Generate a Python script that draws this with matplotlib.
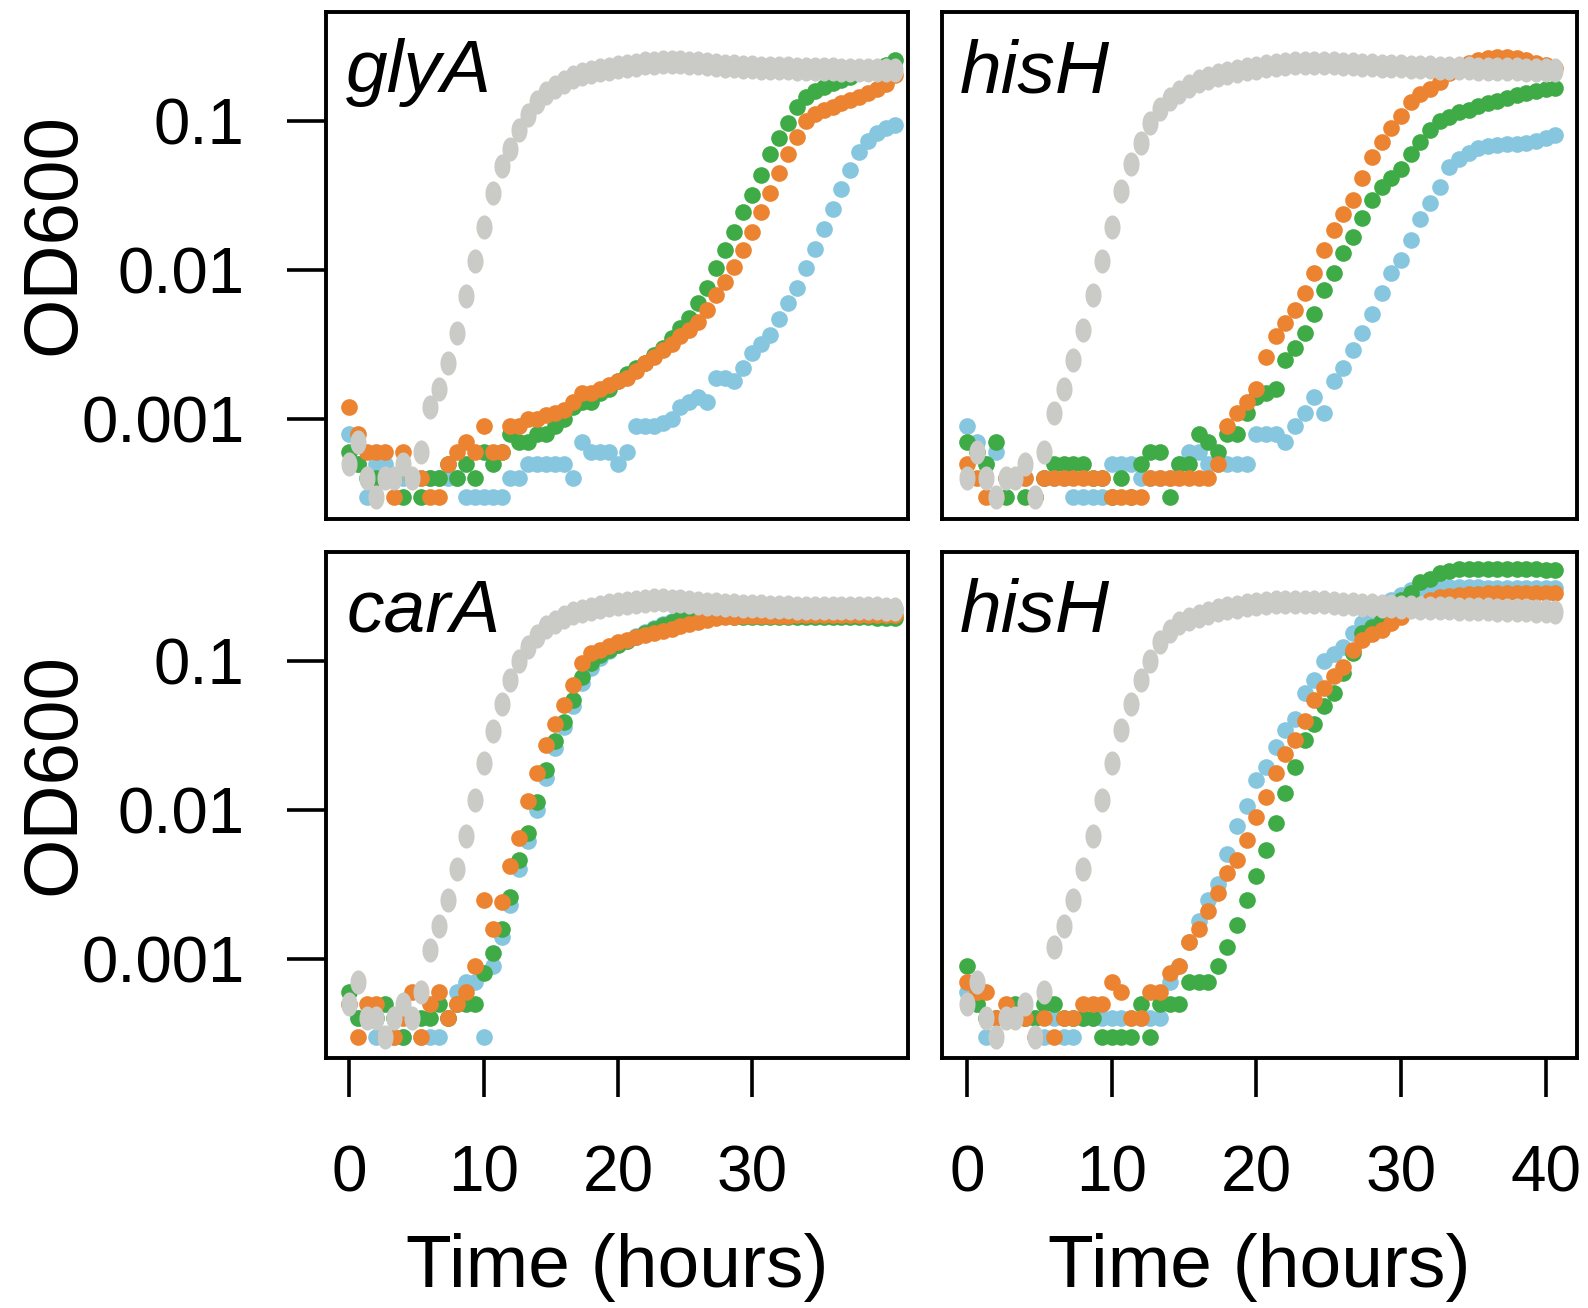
import numpy as np
import matplotlib

matplotlib.use("Agg")
import matplotlib.pyplot as plt
from matplotlib.path import Path

plt.rcParams["font.family"] = ["Liberation Sans", "DejaVu Sans"]

# plate reader schedule: one reading every 40 min, 62 readings
time_h = np.arange(62) * 2 / 3

# ---- glyA (top left) ----
glyA_grey = [0.0005, 0.0007, 0.0004, 0.0003, 0.0004, 0.0004, 0.0005, 0.0004, 0.0006,
             0.0012, 0.0016, 0.0024, 0.0038, 0.0067, 0.0115, 0.0196, 0.033, 0.050, 0.065, 0.088,
             0.11, 0.135, 0.155, 0.17, 0.185, 0.198, 0.207, 0.214, 0.22, 0.226,
             0.232, 0.237, 0.241, 0.245, 0.248, 0.25, 0.251, 0.25, 0.248, 0.246,
             0.243, 0.24, 0.237, 0.235, 0.233, 0.231, 0.23, 0.229, 0.228, 0.227,
             0.226, 0.225, 0.225, 0.224, 0.224, 0.223, 0.223, 0.223, 0.222, 0.222, 0.222, 0.222]
glyA_orange = [0.0012, 0.0008, 0.0006, 0.0006, 0.0006, 0.0003, 0.0006, 0.0004, 0.0004, 0.0003,
               0.0003, 0.0005, 0.0006, 0.0007, 0.0006, 0.0009, 0.0006, 0.0006, 0.0009, 0.0009,
               0.001, 0.001, 0.00107, 0.0011, 0.00116, 0.0013, 0.0015, 0.0015, 0.0016, 0.0017,
               0.0018, 0.0019, 0.0021, 0.0024, 0.0026, 0.0029, 0.0032, 0.0036, 0.004, 0.0045,
               0.0054, 0.0068, 0.0084, 0.0106, 0.0137, 0.018, 0.0248, 0.033, 0.045, 0.060,
               0.079, 0.10, 0.113, 0.12, 0.125, 0.132, 0.14, 0.147, 0.155, 0.165, 0.178, 0.205]
glyA_green = [0.0006, 0.0005, 0.0004, 0.0004, 0.0004, 0.0004, 0.0003, 0.0004, 0.0003, 0.0004,
              0.0004, 0.0005, 0.0004, 0.0005, 0.0004, 0.0006, 0.0005, 0.0006, 0.0008, 0.0007,
              0.0007, 0.0008, 0.0008, 0.0009, 0.001, 0.0012, 0.0013, 0.0013, 0.0015, 0.0016,
              0.0018, 0.002, 0.0022, 0.0024, 0.0027, 0.003, 0.0035, 0.0041, 0.0048, 0.006,
              0.0076, 0.0104, 0.0137, 0.018, 0.0248, 0.032, 0.044, 0.06, 0.077, 0.097,
              0.125, 0.147, 0.16, 0.17, 0.18, 0.19, 0.2, 0.21, 0.22, 0.23, 0.24, 0.26]
glyA_blue = [0.0008, 0.0005, 0.0003, 0.0005, 0.0005, 0.0004, 0.0004, 0.0004, 0.0004, 0.0004,
             0.0004, 0.0004, 0.0004, 0.0003, 0.0003, 0.0003, 0.0003, 0.0003, 0.0004, 0.0004,
             0.0005, 0.0005, 0.0005, 0.0005, 0.0005, 0.0004, 0.0007, 0.0006, 0.0006, 0.0006,
             0.0005, 0.0006, 0.0009, 0.0009, 0.0009, 0.00095, 0.001, 0.0012, 0.0013, 0.0014,
             0.0013, 0.0019, 0.0019, 0.0018, 0.0022, 0.0028, 0.0032, 0.0037, 0.0047, 0.006,
             0.0076, 0.0104, 0.014, 0.019, 0.026, 0.035, 0.047, 0.062, 0.074, 0.083, 0.09, 0.095]

# ---- hisH (top right) ----
hisH1_grey = [0.0004, 0.0006, 0.0004, 0.0003, 0.0004, 0.0004, 0.0005, 0.0003, 0.0006,
              0.0011, 0.0016, 0.0025, 0.004, 0.0068, 0.0115, 0.0196, 0.034, 0.052, 0.072, 0.097,
              0.122, 0.142, 0.158, 0.172, 0.186, 0.197, 0.206, 0.213, 0.219, 0.225,
              0.23, 0.235, 0.24, 0.244, 0.246, 0.247, 0.247, 0.246, 0.245, 0.244,
              0.242, 0.24, 0.238, 0.237, 0.236, 0.234, 0.233, 0.232, 0.231, 0.23,
              0.229, 0.228, 0.227, 0.226, 0.226, 0.225, 0.224, 0.224, 0.223, 0.223, 0.222, 0.222]
hisH1_orange = [0.0005, 0.0004, 0.0003, 0.0003, 0.0004, 0.0004, 0.0004, 0.0003, 0.0004, 0.0004,
                0.0004, 0.0004, 0.0004, 0.0004, 0.0004, 0.0003, 0.0003, 0.0003, 0.0003, 0.0004,
                0.0004, 0.0004, 0.0004, 0.0004, 0.0004, 0.0004, 0.0005, 0.0009, 0.0011, 0.0013,
                0.0016, 0.0026, 0.0036, 0.0044, 0.0054, 0.007, 0.0096, 0.0137, 0.0187, 0.024,
                0.0297, 0.042, 0.058, 0.073, 0.09, 0.108, 0.135, 0.152, 0.165, 0.185,
                0.21, 0.228, 0.245, 0.258, 0.266, 0.272, 0.272, 0.266, 0.258, 0.248, 0.238, 0.228]
hisH1_green = [0.0007, 0.0006, 0.0005, 0.0007, 0.0003, 0.0004, 0.0003, 0.0003, 0.0004, 0.0005,
               0.0005, 0.0005, 0.0005, 0.0004, 0.0004, 0.0003, 0.0004, 0.0003, 0.0005, 0.0006,
               0.0006, 0.0003, 0.0005, 0.0005, 0.0008, 0.0007, 0.0006, 0.0008, 0.0008, 0.0011,
               0.0014, 0.0015, 0.0016, 0.0025, 0.003, 0.0038, 0.0051, 0.0074, 0.0096, 0.013,
               0.0168, 0.0224, 0.0297, 0.0365, 0.042, 0.048, 0.06, 0.073, 0.088, 0.1,
               0.107, 0.115, 0.12, 0.126, 0.132, 0.138, 0.143, 0.15, 0.156, 0.16, 0.164, 0.167]
hisH1_blue = [0.0009, 0.0007, 0.0005, 0.0006, 0.0004, 0.0004, 0.0004, 0.0003, 0.0004, 0.0004,
              0.0004, 0.0003, 0.0003, 0.0003, 0.0003, 0.0005, 0.0005, 0.0005, 0.0004, 0.0004,
              0.0004, 0.0004, 0.0005, 0.0006, 0.0006, 0.0005, 0.0005, 0.0005, 0.0005, 0.0005,
              0.0008, 0.0008, 0.0008, 0.0007, 0.0009, 0.0011, 0.0014, 0.0011, 0.0018, 0.0022,
              0.0029, 0.0038, 0.0051, 0.007, 0.0096, 0.0117, 0.016, 0.022, 0.0282, 0.0365,
              0.0497, 0.056, 0.061, 0.066, 0.068, 0.07, 0.071, 0.071, 0.072, 0.074, 0.077, 0.081]

# ---- carA (bottom left) ----
carA_grey = [0.0005, 0.0007, 0.0004, 0.0004, 0.0003, 0.0004, 0.0005, 0.0004, 0.0006,
             0.00115, 0.00166, 0.0025, 0.004, 0.0067, 0.0117, 0.0207, 0.034, 0.052, 0.075, 0.1,
             0.125, 0.148, 0.17, 0.185, 0.2, 0.21, 0.218, 0.225, 0.232, 0.238,
             0.243, 0.248, 0.252, 0.256, 0.258, 0.258, 0.256, 0.253, 0.25, 0.247,
             0.244, 0.242, 0.24, 0.238, 0.236, 0.235, 0.234, 0.233, 0.232, 0.231,
             0.23, 0.23, 0.229, 0.229, 0.228, 0.228, 0.227, 0.227, 0.227, 0.227, 0.226, 0.226]
carA_orange = [0.0005, 0.0003, 0.0005, 0.0005, 0.0003, 0.0003, 0.0004, 0.0006, 0.0003, 0.0005,
               0.0006, 0.0004, 0.0005, 0.0006, 0.0009, 0.0025, 0.0016, 0.0024, 0.0042, 0.0065,
               0.0115, 0.0178, 0.0275, 0.038, 0.051, 0.069, 0.097, 0.113, 0.12, 0.127,
               0.134, 0.14, 0.145, 0.15, 0.155, 0.16, 0.166, 0.172, 0.178, 0.184,
               0.19, 0.195, 0.198, 0.2, 0.201, 0.202, 0.202, 0.203, 0.203, 0.203,
               0.204, 0.204, 0.204, 0.204, 0.205, 0.205, 0.205, 0.205, 0.205, 0.205, 0.205, 0.205]
carA_green = [0.0006, 0.0004, 0.0004, 0.0004, 0.0005, 0.0004, 0.0003, 0.0004, 0.0004, 0.0004,
              0.0005, 0.0004, 0.0005, 0.0005, 0.0005, 0.0008, 0.0011, 0.0016, 0.0026, 0.0046,
              0.007, 0.0114, 0.0186, 0.029, 0.039, 0.055, 0.079, 0.097, 0.11, 0.12,
              0.128, 0.137, 0.146, 0.155, 0.165, 0.175, 0.185, 0.192, 0.197, 0.2,
              0.201, 0.201, 0.201, 0.2, 0.2, 0.2, 0.2, 0.2, 0.2, 0.2,
              0.2, 0.2, 0.2, 0.199, 0.199, 0.199, 0.198, 0.198, 0.198, 0.197, 0.197, 0.196]
carA_blue = [0.0005, 0.0004, 0.0004, 0.0003, 0.0003, 0.0003, 0.0003, 0.0004, 0.0003, 0.0003,
             0.0003, 0.0004, 0.0006, 0.0007, 0.0007, 0.0003, 0.0009, 0.0014, 0.0023, 0.004,
             0.0062, 0.01, 0.0165, 0.026, 0.036, 0.05, 0.072, 0.09, 0.105, 0.118,
             0.128, 0.138, 0.148, 0.158, 0.168, 0.178, 0.188, 0.196, 0.202, 0.207,
             0.21, 0.213, 0.215, 0.217, 0.218, 0.219, 0.22, 0.221, 0.222, 0.222,
             0.223, 0.223, 0.224, 0.224, 0.225, 0.225, 0.225, 0.226, 0.226, 0.226, 0.226, 0.226]

# ---- hisH (bottom right) ----
hisH2_grey = [0.0005, 0.0007, 0.0004, 0.0003, 0.0004, 0.0004, 0.0005, 0.0003, 0.0006,
              0.0012, 0.00166, 0.0025, 0.004, 0.0067, 0.0117, 0.0207, 0.0346, 0.052, 0.075, 0.1,
              0.135, 0.16, 0.18, 0.192, 0.203, 0.212, 0.22, 0.227, 0.233, 0.238,
              0.242, 0.246, 0.249, 0.251, 0.252, 0.252, 0.251, 0.249, 0.247, 0.244,
              0.242, 0.24, 0.238, 0.236, 0.234, 0.232, 0.231, 0.229, 0.228, 0.227,
              0.227, 0.226, 0.226, 0.225, 0.224, 0.223, 0.222, 0.221, 0.22, 0.219, 0.218, 0.216]
hisH2_orange = [0.0007, 0.0006, 0.0006, 0.0004, 0.0005, 0.0004, 0.0004, 0.0003, 0.0004, 0.0003,
                0.0004, 0.0004, 0.0005, 0.0005, 0.0005, 0.0007, 0.0006, 0.0004, 0.0004, 0.0006,
                0.0006, 0.0008, 0.0009, 0.0013, 0.0016, 0.0021, 0.0028, 0.0038, 0.0046, 0.0063,
                0.009, 0.0123, 0.0177, 0.024, 0.0297, 0.04, 0.055, 0.066, 0.08, 0.092,
                0.119, 0.14, 0.152, 0.162, 0.18, 0.2, 0.22, 0.24, 0.26, 0.27,
                0.276, 0.28, 0.283, 0.285, 0.286, 0.286, 0.286, 0.286, 0.286, 0.286, 0.286, 0.286]
hisH2_green = [0.0009, 0.0005, 0.0004, 0.0004, 0.0004, 0.0005, 0.0004, 0.0004, 0.0005, 0.0005,
               0.0004, 0.0004, 0.0004, 0.0004, 0.0003, 0.0003, 0.0003, 0.0003, 0.0005, 0.0003,
               0.0005, 0.0005, 0.0005, 0.0007, 0.0007, 0.0007, 0.0009, 0.0012, 0.0017, 0.0025,
               0.0036, 0.0054, 0.0082, 0.013, 0.0196, 0.0297, 0.038, 0.05, 0.061, 0.083,
               0.113, 0.154, 0.17, 0.19, 0.233, 0.26, 0.286, 0.34, 0.36, 0.39,
               0.405, 0.42, 0.42, 0.42, 0.42, 0.42, 0.42, 0.42, 0.415, 0.415, 0.41, 0.41]
hisH2_blue = [0.0006, 0.0005, 0.0003, 0.0004, 0.0004, 0.0004, 0.0004, 0.0004, 0.0003, 0.0004,
              0.0003, 0.0003, 0.0004, 0.0004, 0.0004, 0.0004, 0.0004, 0.0004, 0.0004, 0.0004,
              0.0004, 0.0007, 0.0009, 0.0013, 0.0018, 0.0025, 0.0032, 0.0051, 0.0078, 0.0106,
              0.016, 0.0196, 0.0267, 0.0346, 0.041, 0.061, 0.075, 0.1, 0.112, 0.125,
              0.154, 0.18, 0.2, 0.23, 0.26, 0.28, 0.3, 0.31, 0.315, 0.315,
              0.315, 0.315, 0.315, 0.314, 0.313, 0.312, 0.311, 0.31, 0.31, 0.31, 0.31, 0.31]

panel_names = ["glyA", "hisH", "carA", "hisH"]
x_ticks_left = [0, 10, 20, 30]
x_ticks_right = [0, 10, 20, 30, 40]
y_ticks = [0.001, 0.01, 0.1]
y_tick_labels = ["0.001", "0.01", "0.1"]

col_blue = "#86c6df"
col_green = "#3fab47"
col_orange = "#ec8330"
col_grey = "#cacac6"

panels = [
    (glyA_blue, glyA_green, glyA_orange, glyA_grey),
    (hisH1_blue, hisH1_green, hisH1_orange, hisH1_grey),
    (carA_blue, carA_green, carA_orange, carA_grey),
    (hisH2_blue, hisH2_green, hisH2_orange, hisH2_grey),
]

# the wild type replicates sit on top of each other -> taller dot
theta = np.linspace(0, 2 * np.pi, 41)
tall_dot = Path(np.column_stack([np.cos(theta), 1.5 * np.sin(theta)]), closed=True)

fig = plt.figure(figsize=(15.88, 13.08), dpi=100)

# axes boxes in figure fractions (left, bottom, width, height)
boxes = [
    (0.2056, 0.6035, 0.3665, 0.3873),
    (0.5932, 0.6035, 0.3999, 0.3873),
    (0.2056, 0.1908, 0.3665, 0.3872),
    (0.5932, 0.1908, 0.3999, 0.3872),
]

dot = 12.0
for k, (box, series, name) in enumerate(zip(boxes, panels, panel_names)):
    ax = fig.add_axes(box)
    left_col = k % 2 == 0
    bottom_row = k >= 2

    blue, green, orange, grey = series
    ax.plot(time_h, blue, "o", color=col_blue, ms=dot, mew=0, zorder=2)
    ax.plot(time_h, green, "o", color=col_green, ms=dot, mew=0, zorder=3)
    ax.plot(time_h, orange, "o", color=col_orange, ms=dot, mew=0, zorder=4)
    ax.plot(time_h, grey, linestyle="none", marker=tall_dot, color=col_grey,
            ms=dot * 1.45, mew=0, zorder=5)

    ax.set_yscale("log")
    ax.set_ylim(2.15e-4, 0.543)
    ax.yaxis.set_minor_locator(matplotlib.ticker.NullLocator())
    if left_col:
        ax.set_xlim(-1.71, 41.66)
        ax.set_xticks(x_ticks_left)
    else:
        ax.set_xlim(-1.74, 42.17)
        ax.set_xticks(x_ticks_right)

    for sp in ax.spines.values():
        sp.set_linewidth(2.8)

    ax.set_yticks(y_ticks)
    if left_col:
        ax.set_yticklabels(y_tick_labels)
        ax.tick_params(axis="y", length=28, width=2.6, pad=31, labelsize=47)
    else:
        ax.tick_params(axis="y", left=False, labelleft=False)

    if bottom_row:
        ax.tick_params(axis="x", length=28, width=2.6, pad=34, labelsize=46)
    else:
        ax.tick_params(axis="x", bottom=False, labelbottom=False)

    xoff = 0.034 if left_col else 0.028
    ax.text(xoff, 0.842, name, transform=ax.transAxes, fontsize=54,
            style="italic", ha="left", va="baseline")

# axis titles
fig.text(0.0346, 0.821, "OD600", rotation=90, fontsize=55, ha="center", va="center")
fig.text(0.0346, 0.408, "OD600", rotation=90, fontsize=55, ha="center", va="center")
fig.text(0.3889, 0.031, "Time (hours)", fontsize=54, ha="center", va="center")
fig.text(0.7931, 0.031, "Time (hours)", fontsize=54, ha="center", va="center")

plt.savefig("out.png", dpi=100)
plt.close()
